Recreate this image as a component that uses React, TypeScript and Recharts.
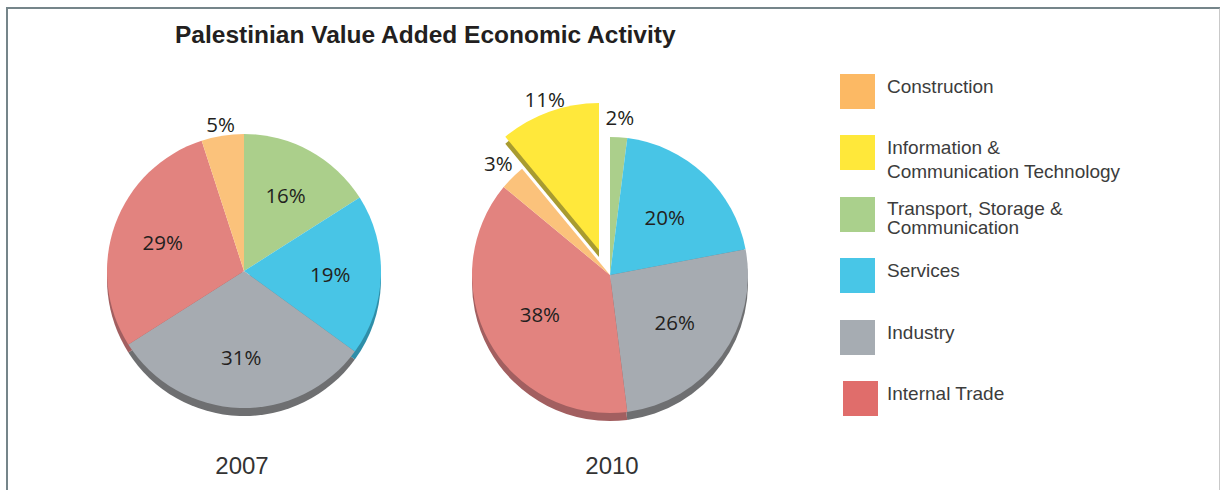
import React from 'react'
import { PieChart, Pie, Cell } from 'recharts'

// sectors in the order they run clockwise from 12 o'clock
const sectors = [
  'Transport, Storage & Communication',
  'Services',
  'Industry',
  'Internal Trade',
  'Construction',
  'Information & Communication Technology',
]
const values2007 = [16, 19, 31, 29, 5, 0]
const values2010 = [2, 20, 26, 38, 3, 11]
const years = ['2007', '2010']

const legendOrder = [
  'Construction',
  'Information & Communication Technology',
  'Transport, Storage & Communication',
  'Services',
  'Industry',
  'Internal Trade',
]
const legendLines: Record<string, string[]> = {
  'Construction': ['Construction'],
  'Information & Communication Technology': ['Information &', 'Communication Technology'],
  'Transport, Storage & Communication': ['Transport, Storage &', 'Communication'],
  'Services': ['Services'],
  'Industry': ['Industry'],
  'Internal Trade': ['Internal Trade'],
}

const sliceColor: Record<string, string> = {
  'Transport, Storage & Communication': '#abcf8b',
  'Services': '#48c5e6',
  'Industry': '#a6abb1',
  'Internal Trade': '#e2837f',
  'Construction': '#fbc27b',
  'Information & Communication Technology': '#ffe83b',
}
const shadowColor: Record<string, string> = {
  'Transport, Storage & Communication': 'none',
  'Services': '#2f8ea8',
  'Industry': '#6e6f71',
  'Internal Trade': '#a25f60',
  'Construction': 'none',
  'Information & Communication Technology': '#a89b30',
}
const legendColor: Record<string, string> = {
  'Construction': '#fcb964',
  'Information & Communication Technology': '#ffe83a',
  'Transport, Storage & Communication': '#aad08c',
  'Services': '#48c6e7',
  'Industry': '#a6acb2',
  'Internal Trade': '#e06d6b',
}

const ICT = 'Information & Communication Technology'

const data2007 = sectors.map((name, i) => ({ name, value: values2007[i] })).filter((d) => d.value > 0)
const data2010 = sectors.map((name, i) => ({ name, value: values2010[i] }))

const RAD = Math.PI / 180

function makeLabel(inside: number, outsidePad: number, only?: string, skip?: string) {
  return (props: any) => {
    const { cx, cy, midAngle, outerRadius, value, name } = props
    if (!value) return null
    if (only && name !== only) return null
    if (skip && name === skip) return null
    const r = value < 12 ? outerRadius + outsidePad : outerRadius * inside
    const x = cx + r * Math.cos(-midAngle * RAD)
    const y = cy + r * Math.sin(-midAngle * RAD)
    return (
      <text x={x} y={y} textAnchor="middle" dominantBaseline="central"
        fontFamily="'Open Sans', sans-serif" fontSize={20.5} fill="#231f20">
        {value}%
      </text>
    )
  }
}

export default function App() {
  return (
    <div style={{ position: 'absolute', left: 0, top: 0, width: 1220, height: 490, background: '#fff', overflow: 'hidden' }}>
      <div style={{
        position: 'absolute', left: 6, top: 7, width: 1211, height: 500,
        borderTop: '2px solid #75858a', borderLeft: '2px solid #75858a', borderRight: '2px solid #c9c9c9',
      }} />
      <div style={{
        position: 'absolute', left: 175, top: 21, fontFamily: "'Liberation Sans', Arial, sans-serif",
        fontWeight: 'bold', fontSize: 24.5, color: '#231f20', whiteSpace: 'nowrap',
      }}>
        Palestinian Value Added Economic Activity
      </div>

      <div style={{ position: 'absolute', left: 0, top: 0 }}>
        <PieChart width={1220} height={490} margin={{ top: 0, right: 0, bottom: 0, left: 0 }}>
          {/* shadows */}
          <Pie data={data2007} dataKey="value" cx={244} cy={279} outerRadius={137}
            startAngle={90} endAngle={-270} stroke="none" isAnimationActive={false}>
            {data2007.map((d) => <Cell key={d.name} fill={shadowColor[d.name]} />)}
          </Pie>
          <Pie data={data2010} dataKey="value" cx={610} cy={283} outerRadius={138}
            startAngle={90} endAngle={-270} stroke="none" isAnimationActive={false}>
            {data2010.map((d) => <Cell key={d.name} fill={d.name === ICT ? 'none' : shadowColor[d.name]} />)}
          </Pie>
          <Pie data={data2010} dataKey="value" cx={599} cy={257} outerRadius={147}
            startAngle={90} endAngle={-270} stroke="none" isAnimationActive={false}>
            {data2010.map((d) => <Cell key={d.name} fill={d.name === ICT ? shadowColor[d.name] : 'none'} />)}
          </Pie>

          {/* main pies */}
          <Pie data={data2007} dataKey="value" cx={244} cy={271} outerRadius={137}
            startAngle={90} endAngle={-270} stroke="none" isAnimationActive={false}
            labelLine={false} label={makeLabel(0.63, 12)}>
            {data2007.map((d) => <Cell key={d.name} fill={sliceColor[d.name]} />)}
          </Pie>
          <Pie data={data2010} dataKey="value" cx={610} cy={275} outerRadius={138}
            startAngle={90} endAngle={-270} stroke="none" isAnimationActive={false}
            labelLine={false} label={makeLabel(0.58, 20, undefined, ICT)}>
            {data2010.map((d) => <Cell key={d.name} fill={d.name === ICT ? 'none' : sliceColor[d.name]} />)}
          </Pie>
          <Pie data={data2010} dataKey="value" cx={599} cy={250} outerRadius={147}
            startAngle={90} endAngle={-270} stroke="none" isAnimationActive={false}
            labelLine={false} label={makeLabel(0.58, 13, ICT)}>
            {data2010.map((d) => <Cell key={d.name} fill={d.name === ICT ? sliceColor[d.name] : 'none'} />)}
          </Pie>
        </PieChart>
      </div>

      {years.map((y, i) => (
        <div key={y} style={{
          position: 'absolute', left: i === 0 ? 192 : 562, width: 100, top: 452, textAlign: 'center',
          fontFamily: "'Liberation Sans', Arial, sans-serif", fontSize: 24, color: '#333',
        }}>{y}</div>
      ))}

      {legendOrder.map((name, i) => {
        const tops = [74, 135, 197, 258, 320, 381]
        const lines = legendLines[name]
        const tight = name.startsWith('Transport')
        return (
          <div key={name}>
            <div style={{
              position: 'absolute', left: name === 'Internal Trade' ? 843 : 840, top: tops[i],
              width: 35, height: 35, background: legendColor[name],
            }} />
            <div style={{
              position: 'absolute', left: 887, top: tight ? tops[i] + 2 : tops[i] + 1,
              fontFamily: "'Liberation Sans', Arial, sans-serif",
              fontSize: 19, lineHeight: tight ? '19px' : '24px', color: '#3c3c3c', whiteSpace: 'nowrap',
            }}>
              {lines.map((l) => <div key={l}>{l}</div>)}
            </div>
          </div>
        )
      })}
    </div>
  )
}
